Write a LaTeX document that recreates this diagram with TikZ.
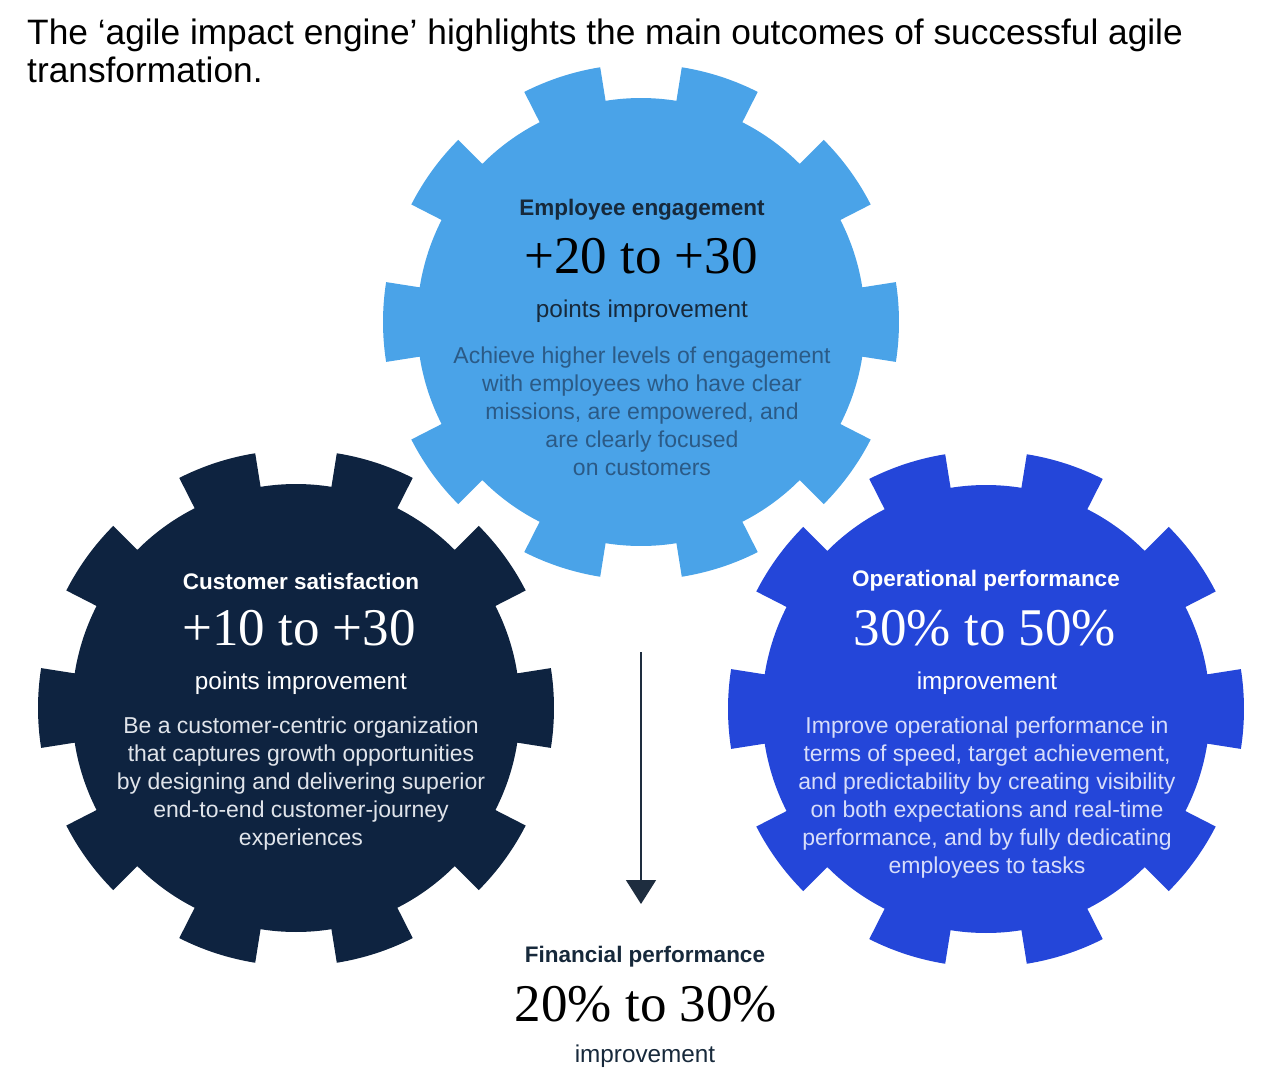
\documentclass[tikz,border=0pt]{standalone}
\usepackage{fontspec}
\setmainfont{Liberation Sans}
\newfontfamily\numfont{Liberation Serif}
\usetikzlibrary{arrows.meta,positioning,calc}

\definecolor{topblue}{HTML}{4AA3E8}
\definecolor{navy}{HTML}{0E2340}
\definecolor{opblue}{HTML}{2446D9}
\definecolor{toptext}{HTML}{17293B}
\definecolor{topbody}{HTML}{2B5A86}
\definecolor{navybody}{HTML}{E0E4EA}
\definecolor{opbody}{HTML}{D7DDFA}
\definecolor{arrowcol}{HTML}{1E2D3F}

\tikzset{
  gearhead/.style={font=\bfseries\fontsize{22.5}{27}\selectfont, inner sep=0pt},
  gearnum/.style={font=\numfont\fontsize{53}{58}\selectfont, inner sep=0pt},
  gearsub/.style={font=\fontsize{24.3}{28}\selectfont, inner sep=0pt},
  gearbody/.style={font=\fontsize{23}{28}\selectfont, align=center, inner sep=0pt},
}

\begin{document}
\begin{tikzpicture}[x=1pt,y=-1pt]
	\useasboundingbox (0,0) rectangle (1262,1082);
	% Title
	\node[anchor=north west, inner sep=0pt, align=left, font=\fontsize{35.3}{38}\selectfont] (title) at (27,19)
		{The ‘agile impact engine’ highlights the main outcomes of successful agile\\transformation.};
	
	% Gear centres
	\coordinate (topc) at (641,322);
	\coordinate (leftc) at (296,708);
	\coordinate (rightc) at (986,709);
	
	% Gears: ten teeth with arc tops
	\foreach \c/\col in {topc/topblue,leftc/navy,rightc/opblue}{
		\fill[\col, shift={(\c)}] (-8.9:258pt)
			\foreach \a in {0,36,...,324}{
				arc[start angle=\a-8.9, end angle=\a+8.9, radius=258pt]
				-- ({\a+8.9}:224pt)
				arc[start angle=\a+8.9, end angle=\a+27.1, radius=224pt]
				-- ({\a+27.1}:258pt)
			} -- cycle;
	}
	
	% Employee engagement
	\node[gearhead, text=toptext] (emphead) at (642,210) {Employee engagement};
	\node[gearnum, text=black] (empnum) at (641,256) {+20 to +30};
	\node[gearsub, text=toptext] (empsub) at (642,311) {points improvement};
	\node[gearbody, text=topbody] (empbody) at (642,411)
		{Achieve higher levels of engagement\\with employees who have clear\\missions, are empowered, and\\are clearly focused\\on customers};
	
	% Customer satisfaction
	\node[gearhead, text=white] (custhead) at (301,581) {Customer satisfaction};
	\node[gearnum, text=white] (custnum) at (299,628) {+10 to +30};
	\node[gearsub, text=white] (custsub) at (301,683) {points improvement};
	\node[gearbody, text=navybody] (custbody) at (301,784)
		{Be a customer-centric organization\\that captures growth opportunities\\by designing and delivering superior\\end-to-end customer-journey\\experiences};
	
	% Operational performance
	\node[gearhead, text=white] (ophead) at (986,581) {Operational performance};
	\node[gearnum, text=white] (opnum) at (985,628) {30\% to 50\%};
	\node[gearsub, text=white] (opsub) at (987,683) {improvement};
	\node[gearbody, text=opbody] (opbody) at (987,798)
		{Improve operational performance in\\terms of speed, target achievement,\\and predictability by creating visibility\\on both expectations and real-time\\performance, and by fully dedicating\\employees to tasks};
	
	% Arrow down to financial result
	\coordinate (arrstart) at (641,652);
	\coordinate (arrend) at (641,904);
	\draw[arrowcol, line width=1.5pt, -{Triangle[length=24pt,width=30pt]}] (arrstart) -- (arrend);
	
	% Financial performance
	\node[gearhead, text=toptext] (finhead) at (645,957) {Financial performance};
	\node[gearnum, text=black] (finnum) at (646,1004) {20\% to 30\%};
	\node[gearsub, text=toptext] (finsub) at (645,1056) {improvement};
\end{tikzpicture}
\end{document}
